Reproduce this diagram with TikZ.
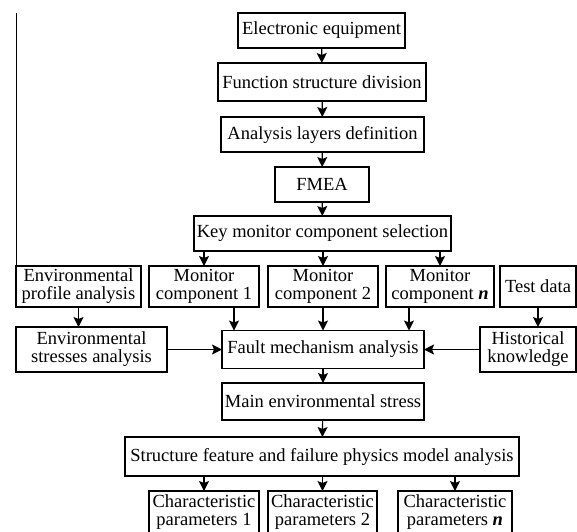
\documentclass[tikz,border=0pt]{standalone}
\usepackage{fontspec}
\setmainfont{Liberation Serif}
\usepackage{tikz}
\usetikzlibrary{arrows.meta,calc}
\newcommand{\nn}{\textbf{\textit{n}}}

\begin{document}
\begin{tikzpicture}[x=1pt,y=-1pt,>={Stealth[length=10pt,width=10pt,inset=2pt]},
	box/.style={draw,line width=1.2pt,inner sep=2pt,outer sep=0pt,
		align=center,font=\fontsize{18.5}{18}\selectfont},
	flow/.style={->,line width=1.2pt}]
	\useasboundingbox (0,0) rectangle (577,531);

	% main column
	\node[box,minimum width=167pt,minimum height=35pt] (elec) at (321.5,30.5) {Electronic equipment};
	\node[box,minimum width=208pt,minimum height=38pt] (func) at (322,82) {Function structure division};
	\node[box,minimum width=203pt,minimum height=35pt] (layer) at (322.5,134.5) {Analysis layers definition};
	\node[box,minimum width=94pt,minimum height=35pt] (fmea) at (322,184.5) {FMEA};
	\node[box,minimum width=257pt,minimum height=35pt] (key) at (322.5,233.5) {Key monitor component selection};

	% row of inputs
	\node[box,minimum width=125pt,minimum height=41pt] (envp) at (78.5,286.5) {Environmental\\profile analysis};
	\node[box,minimum width=110pt,minimum height=41pt] (mc1) at (204,286.5) {Monitor\\component 1};
	\node[box,minimum width=110pt,minimum height=41pt] (mc2) at (323,286.5) {Monitor\\component 2};
	\node[box,minimum width=108pt,minimum height=41pt] (mcn) at (440,286.5) {Monitor\\component \nn};
	\node[box,minimum width=76pt,minimum height=41pt] (test) at (538,286.5) {Test data};

	\node[box,minimum width=151pt,minimum height=45pt] (envs) at (91.5,349.5) {Environmental\\stresses analysis};
	\node[box,minimum width=202pt,minimum height=38pt] (fault) at (323,349.5) {Fault mechanism analysis};
	\node[box,minimum width=96pt,minimum height=45pt] (hist) at (528,349.5) {Historical\\knowledge};

	\node[box,minimum width=202pt,minimum height=37pt] (main) at (323,401.5) {Main environmental stress};
	\node[box,minimum width=394pt,minimum height=39pt] (struct) at (322,456.5) {Structure feature and failure physics model analysis};

	\node[box,minimum width=110pt,minimum height=42pt] (cp1) at (204,512) {Characteristic\\parameters 1};
	\node[box,minimum width=109pt,minimum height=42pt] (cp2) at (322.5,512) {Characteristic\\parameters 2};
	\node[box,minimum width=114pt,minimum height=42pt] (cpn) at (455,512) {Characteristic\\parameters \nn};

	% connectors
	\draw[flow] (elec) -- (func);
	\draw[flow] (func) -- (layer);
	\draw[flow] (layer) -- (fmea);
	\draw[flow] (fmea) -- (key);
	\draw[flow] (key.south -| mc1.north) -- (mc1.north);
	\draw[flow] (key.south -| mc2.north) -- (mc2.north);
	\draw[flow] (key.south -| mcn.north) -- (mcn.north);
	\draw[flow] ([xshift=12pt]fault.north west |- mc1.south) -- ([xshift=12pt]fault.north west);
	\draw[flow] (mc2.south -| fault.north) -- (fault.north);
	\draw[flow] ([xshift=-15pt]fault.north east |- mcn.south) -- ([xshift=-15pt]fault.north east);
	\draw[flow] (envp.south) -- (envp.south |- envs.north);
	\draw[flow] (test.south) -- (test.south |- hist.north);
	\draw[flow] (envs.east) -- (fault.west);
	\draw[flow] (hist.west) -- (fault.east);
	\draw[flow] (fault) -- (main);
	\draw[flow] (main) -- (struct);
	\draw[flow] (struct.south -| cp1.north) -- (cp1.north);
	\draw[flow] (struct.south -| cp2.north) -- (cp2.north);
	\draw[flow] (struct.south -| cpn.north) -- (cpn.north);
	\draw[line width=0.9pt] (envp.north west) -- (envp.north west |- elec.north);

\end{tikzpicture}
\end{document}
